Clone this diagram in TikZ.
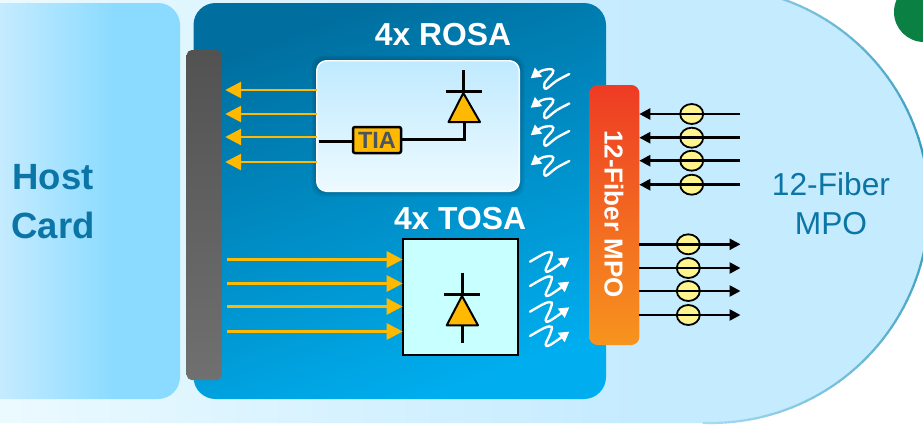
\documentclass[tikz,border=0pt]{standalone}
\usepackage{fontspec}
\setmainfont{Liberation Sans}
\usetikzlibrary{arrows.meta,shapes.geometric}
\definecolor{hostblue}{HTML}{0B75A6}
\definecolor{pale}{HTML}{C5EBFF}
\definecolor{palest}{HTML}{EBFAFF}
\definecolor{cardblue}{HTML}{8ADBFF}
\definecolor{rimteal}{HTML}{2A94B8}
\definecolor{amber}{HTML}{FFB900}
\definecolor{beadfill}{HTML}{FFF58F}
\definecolor{tosafill}{HTML}{C8FFFF}
\definecolor{tiatext}{HTML}{4A5560}
\definecolor{darkgreen}{HTML}{0A8043}
\definecolor{modtop}{HTML}{006E9E}
\definecolor{modbot}{HTML}{00AEEF}
\definecolor{greytop}{HTML}{525252}
\definecolor{greybot}{HTML}{707070}
\definecolor{rosatop}{HTML}{C0EAFF}
\definecolor{rosabot}{HTML}{EDFAFF}
\definecolor{redtop}{HTML}{EE3B24}
\definecolor{orangebot}{HTML}{F7941E}
\tikzset{
 x=1pt,y=-1pt,
 hostlabel/.style={font=\bfseries\fontsize{36.5}{49}\selectfont,text=hostblue,align=center},
 mpolabel/.style={font=\fontsize{31.7}{39}\selectfont,text=hostblue,align=center},
 titlelabel/.style={font=\bfseries\fontsize{31.8}{36}\selectfont,text=white},
 boxnode/.style={inner sep=0pt,outer sep=0pt,anchor=north west},
 orangearrow/.style={draw=amber,line width=2.8pt,-{Triangle[length=16pt,width=16pt]}},
 fiberline/.style={draw=black,line width=2.5pt,-{Triangle[length=11pt,width=11pt]}},
 bead/.style={ellipse,draw=black,line width=1.8pt,fill=beadfill,minimum width=23pt,minimum height=20pt,inner sep=0pt},
 wire/.style={draw=black,line width=3pt},
 wave/.style={draw=white,line width=2.4pt,line cap=round,-{Triangle[length=10pt,width=11pt]}},
 diode/.style={draw=black,line width=2pt,fill=amber,line join=round},
}
\begin{document}
\begin{tikzpicture}
\useasboundingbox (0,0) rectangle (923,426);
\clip (0,0) rectangle (923,426);
\fill[white] (0,0) rectangle (923,426);
% large background with rounded right end
\begin{scope}
\clip (0,-13) -- (711,-13) arc[start angle=-90,end angle=90,radius=218] -- (0,423) -- cycle;
\shade[left color=palest,right color=pale] (0,-20) rectangle (640,430);
\fill[pale] (639.5,-20) rectangle (940,430);
\end{scope}
% rim of the rounded end
\foreach \a in {-104,-102,...,90}{
  \pgfmathsetmacro{\mixv}{max(15,100-0.85*abs(\a+5))}
  \draw[draw=rimteal!\mixv!pale,line width=2.2pt]
    ({711+218*cos(\a)},{205+218*sin(\a)}) -- ({711+218*cos(\a+2.2)},{205+218*sin(\a+2.2)});
}
\fill[darkgreen] (924,12) circle[radius=30];
% host card
\begin{scope}
\clip[rounded corners=22pt] (-40,3) -- (180,3) -- (180,399) -- (-40,399) -- cycle;
\shade[left color=pale,right color=cardblue] (0,0) rectangle (115,402);
\fill[cardblue] (114.5,0) rectangle (182,402);
\end{scope}
\node[hostlabel] (host) at (53,201.5) {Host\\Card};
% module
\node[boxnode,minimum width=412.5pt,minimum height=396pt,rounded corners=22pt,top color=modtop,bottom color=modbot,shading angle=20] (module) at (193.5,3) {};
\node[boxnode,minimum width=35pt,minimum height=330pt,rounded corners=5pt,top color=greytop,bottom color=greybot] (edge) at (186.7,50) {};
% ROSA
\foreach \g in {1,3,5}{
  \fill[black,opacity=.07,rounded corners=11pt] (316.7-\g,60.7-\g) rectangle (519.3+\g,191.3+\g);
}
\node[boxnode,minimum width=202.6pt,minimum height=130.6pt,rounded corners=10pt,draw=white,line width=1.4pt,top color=rosatop,bottom color=rosabot] (rosa) at (316.7,60.7) {};
\node[titlelabel] (rosatitle) at (443,35) {4x ROSA};
\foreach \y in {90,114,137,162}{
  \draw[orangearrow,shorten >=3.5pt] (rosa.west|-0,\y) -- (edge.east|-0,\y);
}
\coordinate (rtop) at (463.3,70);
\coordinate (rbar) at (463.3,91);
\coordinate (rapex) at (463.3,93);
\coordinate (rbase) at (464,122);
\coordinate (rcorner) at (464,139);
\coordinate (rleft) at (318.5,141);
\node[boxnode,minimum width=48pt,minimum height=26pt,draw=black,line width=2.5pt,rounded corners=2pt,fill=amber,font=\bfseries\fontsize{23.5}{24}\selectfont,text=tiatext] (tia) at (353,127) {TIA};
\draw[wire] (rleft) -- (tia.west|-rleft);
\draw[wire,line join=miter] (rbase) -- (rcorner) -- (tia.east|-rcorner);
\draw[wire] (rtop) -- (rbar);
\draw[wire] (445.7,91) -- (481.7,91);
\draw[diode] (rapex) -- (480,122) -- (448.5,122) -- cycle;
\foreach \d in {0,29.5,57,87}{
  \draw[wave] plot[smooth,tension=.55] coordinates {(569.3,74+\d) (556.7,80.7+\d) (546,88.7+\d) (544.5,83.3+\d) (552.7,73.3+\d) (551.7,69.3+\d) (541.7,70.7+\d) (530.7,78.3+\d)};
}
% TOSA
\node[boxnode,minimum width=115.6pt,minimum height=116pt,draw=black,line width=2.2pt,fill=tosafill] (tosa) at (402.7,239) {};
\node[titlelabel] (tosatitle) at (460,219) {4x TOSA};
\foreach \y in {259.5,283.5,306.5,331.5}{
  \draw[orangearrow,shorten <=5.5pt] (edge.east|-0,\y) -- (tosa.west|-0,\y);
}
\coordinate (ttop) at (462,272.5);
\coordinate (tbar) at (462,294);
\coordinate (tapex) at (462,296);
\coordinate (tbase) at (462.3,325);
\coordinate (tend) at (462.3,343);
\draw[wire] (ttop) -- (tbar);
\draw[wire] (444,294) -- (480,294);
\draw[wire] (tbase) -- (tend);
\draw[diode] (tapex) -- (478,325.3) -- (446.7,325.3) -- cycle;
\foreach \d in {0,24.3,50,74.3}{
  \draw[wave] plot[smooth,tension=.55] coordinates {(530,261.7+\d) (545,253.3+\d) (551.7,252.7+\d) (550,260+\d) (545.7,270+\d) (550,270.7+\d) (569.3,257.3+\d)};
}
% MPO block
\node[boxnode,minimum width=50pt,minimum height=260pt,rounded corners=8pt,top color=redtop,bottom color=orangebot] (mpo) at (589.3,85) {};
\node[rotate=-90,font=\bfseries\fontsize{26}{28}\selectfont,text=white] (mpotext) at (614,214) {12-Fiber MPO};
% fibres
\foreach \y in {114,137.7,160.7,184.7}{
  \node[bead] at (691.7,\y) {};
  \coordinate (inend) at (740,\y);
  \draw[fiberline] (inend) -- (mpo.east|-inend);
}
\foreach \y in {244.3,268,291,315}{
  \node[bead] at (688.3,\y) {};
  \coordinate (outend) at (740.5,\y);
  \draw[fiberline] (mpo.east|-outend) -- (outend);
}
\node[mpolabel] (mpolabel) at (831,203.5) {12-Fiber\\MPO};
\end{tikzpicture}
\end{document}
